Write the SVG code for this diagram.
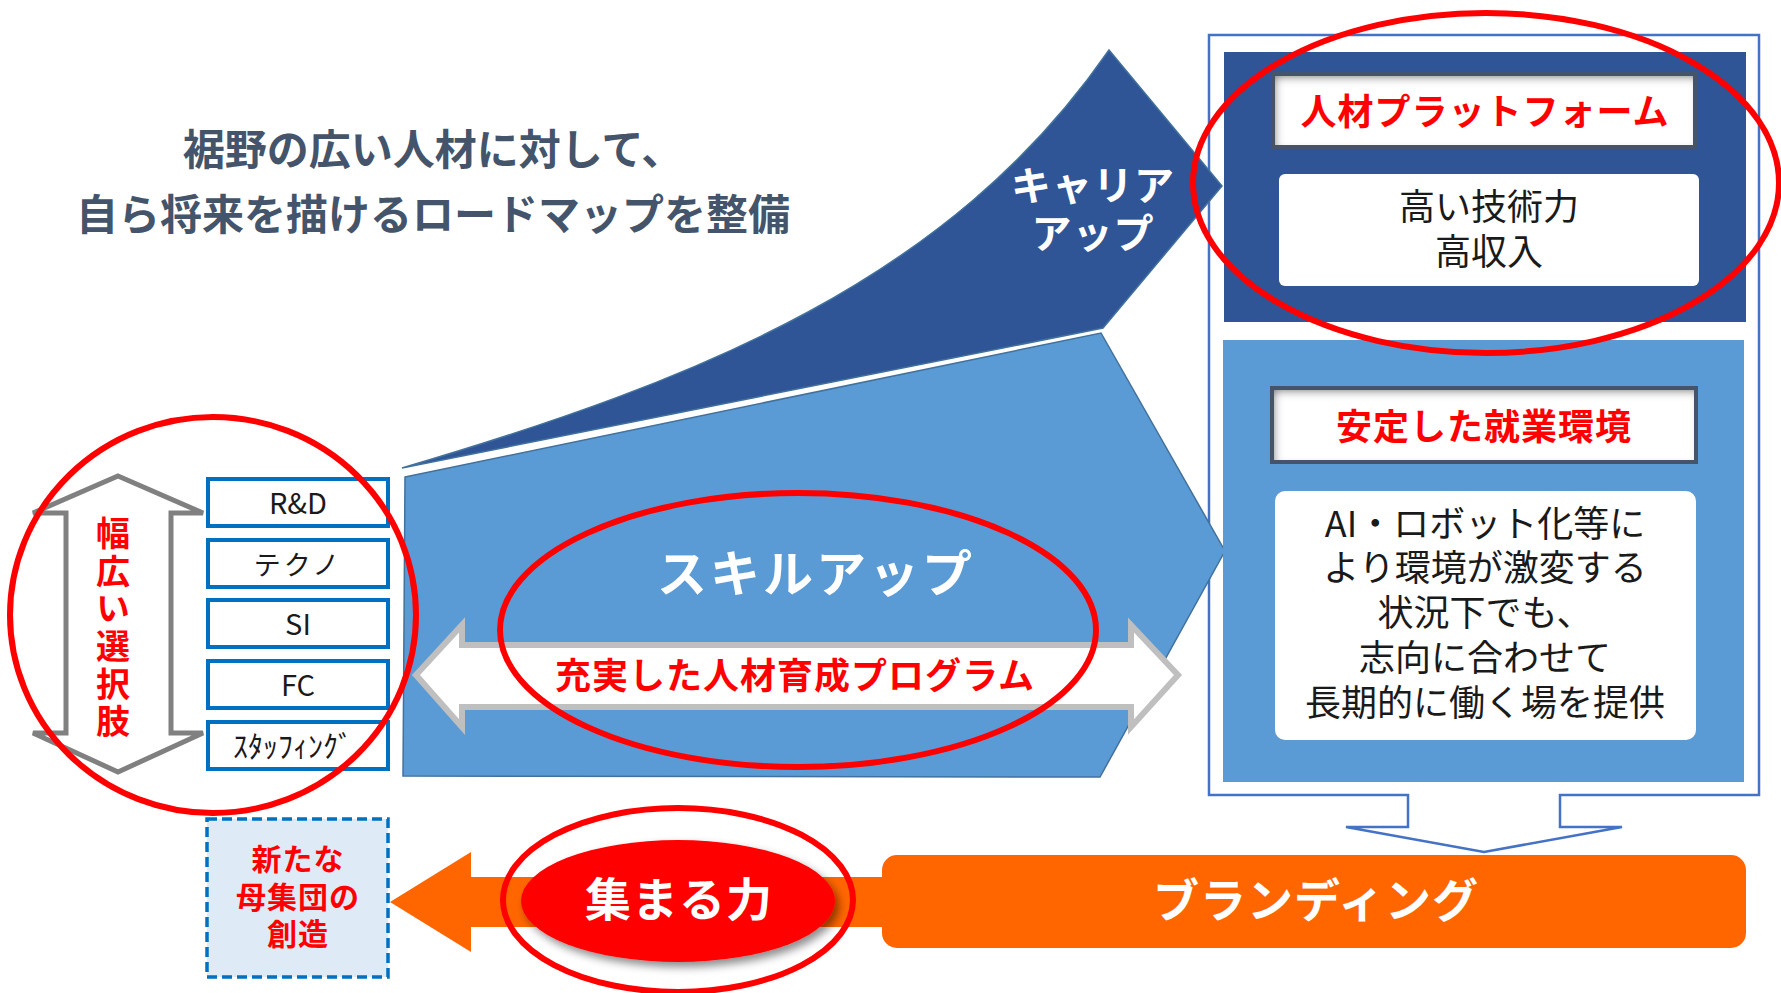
<svg xmlns="http://www.w3.org/2000/svg" width="1781" height="993" viewBox="0 0 1781 993">
<defs>
<style>
text{font-family:"Noto Sans CJK JP","Noto Sans",sans-serif;text-anchor:middle}
.b{font-weight:700}
.red{fill:#FF0000}
.wt{fill:#FFFFFF}
.bk{fill:#1A1A1A}
.opt{fill:#FFFFFF;stroke:#0070C0;stroke-width:4}
.ring{fill:none;stroke:#FF0000;stroke-width:6}
.head{fill:#FFFFFF;filter:url(#inset)}
.headline{fill:none;stroke:#44546A;stroke-width:4}
</style>
<filter id="inset" x="-10%" y="-20%" width="120%" height="140%">
<feFlood flood-color="#404040" flood-opacity="0.85" result="f"/>
<feComposite in="f" in2="SourceAlpha" operator="out" result="o"/>
<feOffset in="o" dx="3" dy="4" result="oo"/>
<feGaussianBlur in="oo" stdDeviation="4" result="b"/>
<feComposite in="b" in2="SourceAlpha" operator="in" result="s"/>
<feMerge><feMergeNode in="SourceGraphic"/><feMergeNode in="s"/></feMerge>
</filter>
<filter id="drop" x="-20%" y="-30%" width="140%" height="160%">
<feDropShadow dx="4" dy="5" stdDeviation="4" flood-color="#000" flood-opacity="0.45"/>
</filter>
</defs>

<g id="title">
<text class="b" font-size="42" fill="#44546A"><tspan x="433" y="165">裾野の広い人材に対して、</tspan><tspan x="433" y="230">自ら将来を描けるロードマップを整備</tspan></text>
</g>

<g id="right-panel">
<path d="M1209,35 H1759 V795 H1560 V827 H1622 L1484,852 L1346,827 H1408 V795 H1209 Z" fill="#FFFFFF" stroke="#4472C4" stroke-width="2.5"/>
</g>

<g id="career-up">
<path d="M402,468 C700,380 950,280 1109,50 L1222,186 L1103,328 Z" fill="#2F5597" stroke="#41719C" stroke-width="1.5"/>
<text class="b wt" font-size="40" letter-spacing="1"><tspan x="1093" y="200">キャリア</tspan><tspan x="1093" y="248">アップ</tspan></text>
</g>

<g id="skill-up">
<path d="M405,477 L1101,333 L1225,551 L1100,777 L403,776 Z" fill="#5B9BD5" stroke="#41719C" stroke-width="1.5"/>
<text class="b wt" x="816" y="592" font-size="50" letter-spacing="3">スキルアップ</text>
</g>

<g id="platform">
<rect x="1224" y="52" width="522" height="270" fill="#2F5597"/>
<rect class="head" x="1273" y="74" width="422" height="73"/>
<rect class="headline" x="1273" y="74" width="422" height="73"/>
<text class="b red" x="1485" y="125" font-size="36" letter-spacing="1">人材プラットフォーム</text>
<rect x="1279" y="174" width="420" height="112" rx="6" fill="#FFFFFF"/>
<text class="bk" font-size="36"><tspan x="1489" y="220">高い技術力</tspan><tspan x="1489" y="265">高収入</tspan></text>
</g>

<g id="work-environment">
<rect x="1223" y="340" width="521" height="442" fill="#5B9BD5"/>
<rect class="head" x="1272" y="388" width="424" height="74"/>
<rect class="headline" x="1272" y="388" width="424" height="74"/>
<text class="b red" x="1484" y="440" font-size="36" letter-spacing="1">安定した就業環境</text>
<rect x="1275" y="491" width="421" height="249" rx="10" fill="#FFFFFF"/>
<text class="bk" font-size="36"><tspan x="1485" y="537">AI・ロボット化等に</tspan><tspan x="1485" y="581">より環境が激変する</tspan><tspan x="1485" y="626">状況下でも、</tspan><tspan x="1485" y="671">志向に合わせて</tspan><tspan x="1485" y="716">長期的に働く場を提供</tspan></text>
</g>

<g id="options">
<path d="M118,476 L203,513 L171,513 L171,733 L203,733 L118,772 L33,733 L66,733 L66,513 L33,513 Z" fill="#FFFFFF" stroke="#808080" stroke-width="5" stroke-linejoin="miter"/>
<text class="b red" x="113" y="629" font-size="34" letter-spacing="3.6" style="writing-mode:vertical-rl">幅広い選択肢</text>
</g>

<g id="opt-rd"><rect class="opt" x="208" y="479" width="180" height="47"/><text class="bk" x="298" y="514" font-size="29">R&amp;D</text></g>
<g id="opt-techno"><rect class="opt" x="208" y="540" width="180" height="47"/><text class="bk" x="298" y="575" font-size="27" letter-spacing="3">テクノ</text></g>
<g id="opt-si"><rect class="opt" x="208" y="600" width="180" height="47"/><text class="bk" x="298" y="635" font-size="29">SI</text></g>
<g id="opt-fc"><rect class="opt" x="208" y="661" width="180" height="47"/><text class="bk" x="298" y="696" font-size="29">FC</text></g>
<g id="opt-staffing"><rect class="opt" x="208" y="722" width="180" height="47"/><text class="bk" x="293" y="757" font-size="30">ｽﾀｯﾌｨﾝｸﾞ</text></g>

<g id="connectors">
<path d="M416,675 L462,625 L462,645 L1131,645 L1131,625 L1178,675 L1131,727 L1131,707 L462,707 L462,727 Z" fill="#FFFFFF" stroke="#BFBFBF" stroke-width="6" stroke-linejoin="miter"/>
<path d="M390,902 L471,852 L471,877 L890,877 L890,927 L471,927 L471,952 Z" fill="#FF6600"/>
</g>
<text class="b red" x="795" y="689" font-size="36" letter-spacing="1">充実した人材育成プログラム</text>

<g id="new-population">
<rect x="207" y="819" width="181" height="158" fill="#DEEBF7" stroke="#0070C0" stroke-width="3.5" stroke-dasharray="10 5"/>
<text class="b red" font-size="30" letter-spacing="1"><tspan x="298" y="870">新たな</tspan><tspan x="298" y="908">母集団の</tspan><tspan x="298" y="945">創造</tspan></text>
</g>

<g id="branding">
<rect x="882" y="855" width="864" height="93" rx="15" fill="#FF6600"/>
<text class="b wt" x="1316" y="917" font-size="46" letter-spacing="1">ブランディング</text>
</g>

<g id="gathering-power">
<ellipse cx="678" cy="901" rx="157" ry="61" fill="#FF0000" filter="url(#drop)"/>
<text class="b wt" x="679" y="916" font-size="46" letter-spacing="1">集まる力</text>
</g>

<g id="highlights">
<ellipse class="ring" cx="213" cy="615" rx="203" ry="198"/>
<ellipse class="ring" cx="798" cy="630" rx="298" ry="137"/>
<ellipse class="ring" cx="1486" cy="183" rx="293" ry="170"/>
<ellipse class="ring" cx="678" cy="900" rx="175" ry="92"/>
</g>
</svg>
